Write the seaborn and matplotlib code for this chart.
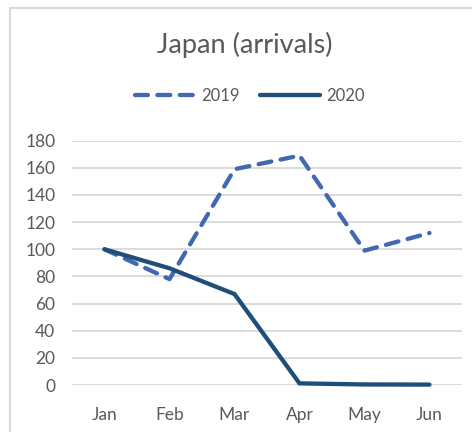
import matplotlib
matplotlib.use("Agg")
import matplotlib.pyplot as plt
from matplotlib.patches import Rectangle
from matplotlib.lines import Line2D
import seaborn as sns
import pandas as pd

months = ["Jan", "Feb", "Mar", "Apr", "May", "Jun"]
arrivals_2019 = [100, 78, 159, 169, 99, 112]
arrivals_2020 = [100, 86, 67, 1.2, 0.4, 0.3]
yticks = [0, 20, 40, 60, 80, 100, 120, 140, 160, 180]

df = pd.DataFrame({
    "month": months * 2,
    "value": arrivals_2019 + arrivals_2020,
    "year": ["2019"] * len(months) + ["2020"] * len(months),
})

sns.set_theme(style="white")
plt.rcParams["font.family"] = ["Lato", "DejaVu Sans"]

W, H = 472, 432
fig = plt.figure(figsize=(W / 100, H / 100), dpi=100)
fig.patch.set_facecolor("white")

# chart frame
fig.add_artist(Rectangle((9.5 / W, -0.1), 1.2, 1.1 - 8.5 / H,
                         transform=fig.transFigure, fill=False,
                         edgecolor="#D9D9D9", linewidth=1.5))

x0, x1 = 72, 462
y_top, y_bot = 140.7, 385
ax = fig.add_axes([x0 / W, 1 - y_bot / H, (x1 - x0) / W, (y_bot - y_top) / H])

LW = 3.1
DASH = [3.0, 2.2]
palette = {"2019": "#4169B2", "2020": "#1F4E79"}
sns.lineplot(data=df, x="month", y="value", hue="year", palette=palette,
             ax=ax, legend=False, sort=False)
lines = ax.get_lines()
for ln, yr in zip(lines, ["2019", "2020"]):
    ln.set_linewidth(LW)
    ln.set_clip_on(False)
    ln.set_solid_capstyle("round")
    ln.set_dash_capstyle("round")
    ln.set_solid_joinstyle("miter")
    if yr == "2019":
        ln.set_dashes(DASH)
        ln.set_zorder(2)
    else:
        ln.set_zorder(3)

ax.set_xlim(-0.5, 5.5)
ax.set_ylim(0, 180)
ax.set_yticks(yticks)
ax.set_yticklabels([str(v) for v in yticks])
ax.grid(axis="y", color="#D9D9D9", linewidth=1.3)
ax.set_axisbelow(True)
for s in ax.spines.values():
    s.set_visible(False)
ax.tick_params(axis="both", length=0, labelsize=12.5, labelcolor="#595959")
ax.tick_params(axis="x", pad=16)
ax.tick_params(axis="y", pad=12)
ax.set_xlabel("")
ax.set_ylabel("")

fig.text(245 / W, 1 - 45 / H, "Japan (arrivals)", ha="center", va="center",
         fontsize=19.5, color="#595959")

handles = [
    Line2D([], [], color=palette["2019"], linewidth=LW, dashes=DASH,
           dash_capstyle="round"),
    Line2D([], [], color=palette["2020"], linewidth=LW, solid_capstyle="round"),
]
fig.legend(handles, ["2019", "2020"], loc="center", bbox_to_anchor=(250 / W, 1 - 96 / H),
           ncol=2, frameon=False, fontsize=12, labelcolor="#595959",
           handlelength=3.6, handletextpad=0.4, columnspacing=1.2)

fig.savefig("out.png", dpi=100, facecolor="white")
